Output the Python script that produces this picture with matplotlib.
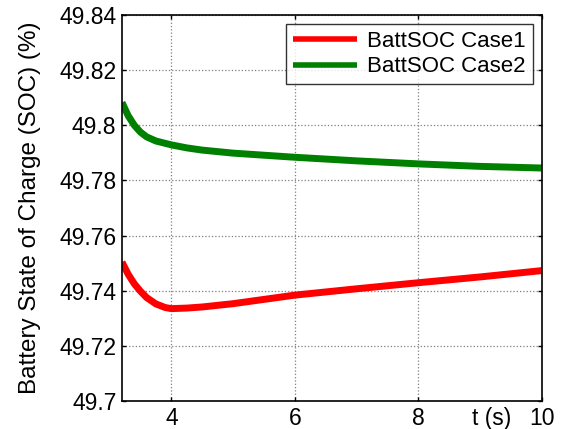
import matplotlib
matplotlib.use("Agg")
import matplotlib.pyplot as plt
import numpy as np

plt.rcParams['font.family'] = ['Liberation Sans', 'DejaVu Sans']

t_case1 = [3.2, 3.3, 3.4, 3.5, 3.6, 3.75, 3.9, 4.0, 4.25, 4.5, 5.0, 6.0, 7.0, 8.0, 9.0, 10.0]
soc_case1 = [49.7504, 49.7460, 49.7425, 49.7398, 49.7375, 49.7352, 49.7339, 49.7335, 49.7337, 49.7341,
             49.7353, 49.7384, 49.7407, 49.7429, 49.7450, 49.7473]

t_case2 = [3.2, 3.3, 3.4, 3.5, 3.6, 3.75, 4.0, 4.25, 4.5, 5.0, 6.0, 7.0, 8.0, 9.0, 10.0]
soc_case2 = [49.8083, 49.8035, 49.8000, 49.7975, 49.7958, 49.7943, 49.7929, 49.7918, 49.7910, 49.7899,
             49.7884, 49.7871, 49.7860, 49.7851, 49.7845]

labels = ["BattSOC Case1", "BattSOC Case2"]
xticks = [4, 6, 8, 10]
yticks = [49.7, 49.72, 49.74, 49.76, 49.78, 49.8, 49.82, 49.84]
ytick_labels = ["49.7", "49.72", "49.74", "49.76", "49.78", "49.8", "49.82", "49.84"]

FS = 16.5

fig = plt.figure(figsize=(5.62, 4.29), dpi=100)
ax = fig.add_axes([0.217, 0.0653, 0.7474, 0.8997])

ax.plot(t_case1, soc_case1, color='#ff0000', lw=5, label=labels[0], solid_capstyle='butt')
ax.plot(t_case2, soc_case2, color='#008000', lw=5, label=labels[1], solid_capstyle='butt')

ax.set_xlim(3.2, 10)
ax.set_ylim(49.7, 49.84)
ax.set_xticks(xticks)
ax.set_yticks(yticks)
ax.set_yticklabels(ytick_labels)
ax.tick_params(direction='in', length=3, width=1, top=True, right=True,
               labelsize=FS, colors='black')
ax.tick_params(axis='x', pad=4)
ax.tick_params(axis='y', pad=4)
ax.grid(True, linestyle=':', color='#7f7f7f', lw=0.9)
for s in ax.spines.values():
    s.set_linewidth(1.2)
    s.set_color('black')

ax.set_ylabel("Battery State of Charge (SOC) (%)", fontsize=17.5, labelpad=13)
ax.annotate("t (s)", xy=(0.881, 0), xycoords='axes fraction', xytext=(0, -4),
            textcoords='offset points', ha='center', va='top', fontsize=FS)

leg = ax.legend(loc='upper right', fontsize=16, frameon=True, fancybox=False,
                edgecolor='black', handlelength=2.9, borderaxespad=0.42,
                borderpad=0.3, labelspacing=0.2, handletextpad=0.45)
leg.get_frame().set_linewidth(1.0)
for h in leg.get_lines():
    h.set_linewidth(4)

fig.savefig("out.png", dpi=100)
